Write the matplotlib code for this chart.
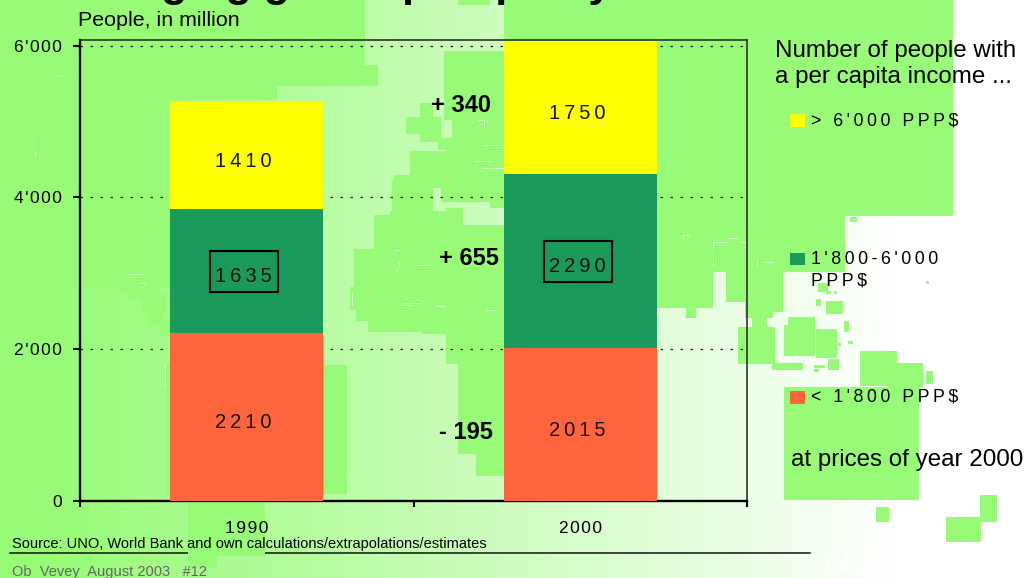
import numpy as np
import matplotlib
matplotlib.use('Agg')
import matplotlib.pyplot as plt
from matplotlib.patches import Rectangle

plt.rcParams['font.family'] = ['Liberation Sans', 'DejaVu Sans']

# data
years = ['1990', '2000']
low_income = [2210, 2015]
mid_income = [1635, 2290]
high_income = [1410, 1750]
y_ticks = [0, 2000, 4000, 6000]
y_tick_labels = ['0', "2'000", "4'000", "6'000"]
changes = ['- 195', '+ 655', '+ 340']

LAND = '#98FB78'
YELLOW = '#FFFF00'
GREEN = '#1A9A5A'
ORANGE = '#FF653C'
W, H = 1026, 578

# world map blocks behind the chart, pixels: x0, y0, x1, y1
land_blocks = [
    (0, 0, 170, 288), (170, 0, 277, 100), (277, 0, 365, 86), (365, 65, 378, 86),
    (458, 0, 490, 5), (444, 51, 504, 120), (504, 0, 953, 216),
    (420, 103, 433, 117), (406, 117, 441, 134), (420, 134, 441, 142),
    (452, 120, 504, 153), (438, 138, 452, 153), (410, 151, 504, 180),
    (394, 175, 504, 180), (392, 180, 433, 211), (433, 180, 441, 188),
    (441, 180, 504, 202), (490, 202, 504, 208), (446, 208, 463, 225),
    (390, 211, 446, 215), (374, 215, 463, 249), (463, 225, 504, 249),
    (354, 249, 504, 287), (350, 287, 504, 310), (356, 310, 504, 321),
    (368, 321, 504, 332), (422, 332, 504, 334), (446, 334, 504, 364),
    (458, 364, 504, 454), (476, 454, 504, 476), (166, 365, 347, 494),
    (117, 287, 160, 293), (130, 293, 167, 300), (142, 300, 167, 313),
    (148, 313, 163, 327), (160, 321, 170, 336), (153, 254, 170, 277),
    (657, 216, 845, 272), (657, 272, 713, 308), (686, 308, 696, 318),
    (726, 272, 783, 302), (745, 302, 783, 312), (745, 312, 773, 318),
    (850, 217, 857, 222), (818, 283, 828, 292), (826, 291, 831, 294),
    (834, 291, 837, 294), (816, 299, 821, 306), (826, 301, 843, 314),
    (926, 281, 929, 284), (844, 321, 849, 332), (838, 343, 841, 346),
    (848, 341, 853, 344), (788, 317, 815, 356), (784, 325, 788, 356),
    (816, 329, 837, 358), (828, 359, 839, 370), (772, 363, 803, 370),
    (814, 365, 825, 368), (814, 369, 819, 372), (738, 327, 775, 364),
    (752, 317, 767, 327), (860, 351, 897, 386), (888, 363, 923, 387),
    (926, 371, 933, 384), (784, 387, 919, 500), (876, 507, 889, 522),
    (946, 517, 981, 542), (980, 495, 997, 522),
    (188, 502, 265, 556), (188, 556, 217, 568),
]

# thin white borders left in the map, pixels
map_borders = [
    (683, 235, 689, 235), (683, 235, 683, 240), (713, 242, 726, 242),
    (713, 242, 713, 265), (728, 238, 737, 238), (741, 242, 745, 242),
    (757, 259, 757, 265), (765, 262, 773, 262), (55, 75, 62, 75),
    (35, 135, 35, 155), (129, 274, 143, 274), (139, 283, 145, 283),
    (400, 262, 398, 270), (394, 250, 400, 250), (165, 365, 165, 385),
    (438, 150, 445, 150), (478, 120, 484, 120), (484, 120, 484, 128),
    (485, 145, 503, 145), (474, 161, 490, 161), (483, 168, 503, 168),
    (415, 265, 430, 265), (405, 303, 420, 303), (400, 305, 410, 305),
    (436, 306, 445, 306), (486, 310, 495, 310), (352, 293, 352, 305),
]


def spaced(s, gap='\u2009'):
    # the slide uses letter spaced labels
    return gap.join(s)


fig = plt.figure(figsize=(W / 100, H / 100), dpi=100)

# background layer in pixel coordinates
bg = fig.add_axes([0, 0, 1, 1], zorder=0)
bg.set_xlim(0, W)
bg.set_ylim(H, 0)
bg.axis('off')
fade = np.clip((np.arange(W) - 60) / 840, 0, 1)
gradient = np.ones((1, W, 3))
gradient[0, :, 0] = (152 + 103 * fade) / 255
gradient[0, :, 1] = (251 + 4 * fade) / 255
gradient[0, :, 2] = (120 + 135 * fade) / 255
bg.imshow(gradient, extent=(0, W, H, 0), aspect='auto', zorder=0)
bg.plot([10, 810], [553, 553], color='#111111', lw=1.1, zorder=1)
for x0, y0, x1, y1 in land_blocks:
    bg.add_patch(Rectangle((x0, y0), x1 - x0, y1 - y0, fc=LAND, ec='none', zorder=2))
for x0, y0, x1, y1 in map_borders:
    bg.plot([x0, x1], [y0, y1], color='white', lw=0.5, alpha=0.8, zorder=2.5)

# legend swatches
for y0, h, c in [(114, 13, YELLOW), (253, 12, GREEN), (391, 13, ORANGE)]:
    bg.add_patch(Rectangle((790, y0), 15, h, fc=c, ec='none', zorder=3))

# chart
ax = fig.add_axes([80 / W, 1 - 501 / H, 666.5 / W, 461.5 / H], zorder=1)
ax.patch.set_alpha(0)
x_left, x_right = -0.4985, 1.497
ax.set_xlim(x_left, x_right)
ax.set_ylim(0, 6080)

x = np.arange(len(years))
low = np.array(low_income)
mid = np.array(mid_income)
high = np.array(high_income)
width = 0.458
ax.bar(x, low, width, color=ORANGE, zorder=3)
ax.bar(x, mid, width, bottom=low, color=GREEN, zorder=3)
ax.bar(x, high, width, bottom=low + mid, color=YELLOW, zorder=3)

ax.set_axisbelow(True)
ax.grid(axis='y', color='#222222', lw=0.9, linestyle=(0, (2, 6)), zorder=1)
ax.set_yticks(y_ticks)
ax.set_yticklabels([spaced(t, '\u200a') for t in y_tick_labels], fontsize=12.5)
ax.set_xticks([x_left, 0.5, x_right])
ax.set_xticklabels([])
ax.set_xticks(x, minor=True)
ax.set_xticklabels([spaced(y, '\u200a') for y in years], minor=True, fontsize=12.5)
ax.tick_params(axis='y', length=5, width=1.5, pad=8)
ax.tick_params(axis='x', which='major', length=4, width=1.5)
ax.tick_params(axis='x', which='minor', length=0, pad=14.5)
for name in ['left', 'bottom']:
    ax.spines[name].set_linewidth(1.7)
for name in ['top', 'right']:
    ax.spines[name].set_linewidth(1.1)
    ax.spines[name].set_color('#222222')

# values inside the bars, the slide has them a little left of centre
for i in x:
    for bottom, val in [(0, low[i]), (low[i], mid[i]), (low[i] + mid[i], high[i])]:
        ax.annotate(spaced(str(val)), (i, bottom + val / 2), xytext=(-2, -4),
                    textcoords='offset points', ha='center', va='center',
                    fontsize=14.5, color='#111111', zorder=6)
    box_w, box_h = 0.204, 540
    mid_y = low[i] + mid[i] / 2
    ax.add_patch(Rectangle((i - 0.008 - box_w / 2, mid_y - box_h / 2), box_w, box_h,
                           fc='none', ec='black', lw=1.5, zorder=5))


def px_text(px, py, s, **kw):
    kw.setdefault('va', 'center')
    return fig.text(px / W, 1 - py / H, s, zorder=5, **kw)


# clipped slide title
px_text(54, -4, 'Changing global prosperity', va='baseline', fontsize=31, fontweight='bold')
px_text(78, 21, 'People, in million', fontsize=15.4)
px_text(775, 51, 'Number of people with', fontsize=17.4)
px_text(775, 77, 'a per capita income ...', fontsize=17.4)
px_text(811, 121, spaced("> 6'000 PPP$"), fontsize=12.8)
px_text(811, 260, spaced("1'800-6'000"), fontsize=12.8)
px_text(811, 281, spaced('PPP$'), fontsize=12.8)
px_text(811, 397, spaced("< 1'800 PPP$"), fontsize=12.8)
px_text(791, 460, 'at prices of year 2000', fontsize=17.4)

for s, cx, cy in zip(changes, [466, 469, 461], [432, 258, 105.5]):
    px_text(cx, cy + 0.5, s, ha='center', fontsize=17, fontweight='bold')

px_text(12, 544, 'Source: UNO, World Bank and own calculations/extrapolations/estimates', fontsize=10.5)
px_text(12, 572, 'Ob  Vevey  August 2003   #12', fontsize=10.5, color='#666666')
px_text(825, 565, 'Globalization', fontsize=18, color='white')

fig.savefig('out.png', dpi=100)
